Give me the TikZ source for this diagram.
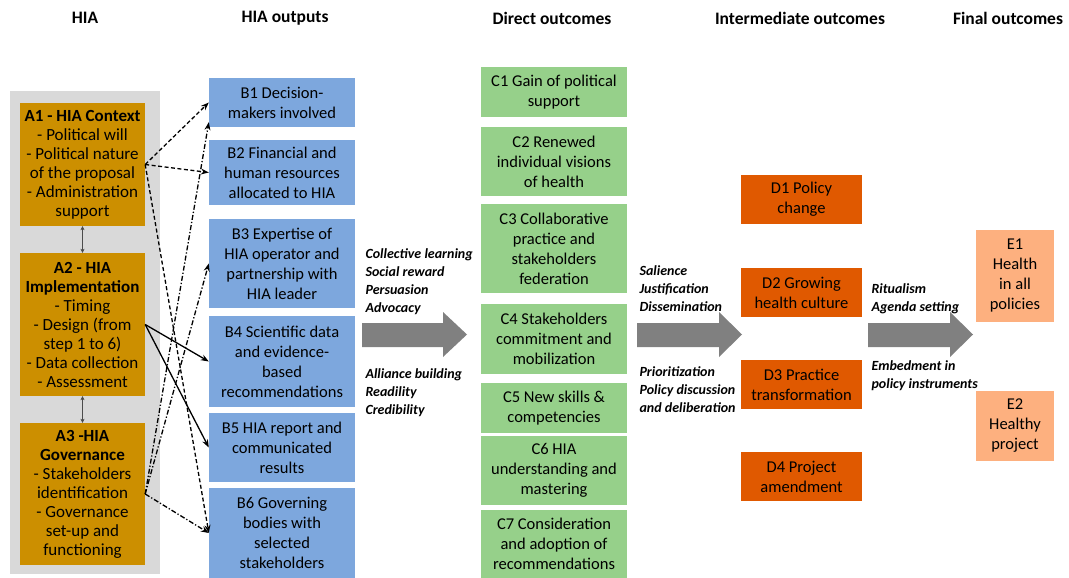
\documentclass[tikz,border=0pt]{standalone}
\usepackage{fontspec}
\setmainfont{Carlito}
\usetikzlibrary{arrows.meta, calc}

\definecolor{ctxgold}{RGB}{204,143,0}
\definecolor{outblue}{RGB}{125,167,221}
\definecolor{dirgreen}{RGB}{150,208,138}
\definecolor{intorange}{RGB}{224,89,0}
\definecolor{finpeach}{RGB}{253,176,127}
\definecolor{panelgrey}{RGB}{217,217,217}
\definecolor{flowgrey}{RGB}{128,128,128}

\begin{document}
\begin{tikzpicture}[
	x=1pt, y=-1pt,
	box/.style={rectangle, inner sep=2pt, align=center, font=\fontsize{16.5}{20}\selectfont},
	hiabox/.style={box, fill=ctxgold, minimum width=125pt, font=\fontsize{17}{19}\selectfont},
	outbox/.style={box, fill=outblue, minimum width=146pt},
	dirbox/.style={box, fill=dirgreen, minimum width=146pt},
	intbox/.style={box, fill=intorange, minimum width=121pt},
	finbox/.style={box, fill=finpeach, minimum width=78pt},
	heading/.style={font=\fontsize{17.5}{20}\selectfont\bfseries},
	mech/.style={anchor=west, align=left, font=\fontsize{14}{18}\selectfont\bfseries\itshape},
	flow/.style={fill=flowgrey},
	tip/.style={-{Stealth[length=8pt, width=6pt]}, line width=1.3pt},
	ctxlink/.style={tip, dash pattern=on 4pt off 2.5pt},
	implink/.style={tip},
	govlink/.style={tip, dash pattern=on 5pt off 2pt on 1.3pt off 2pt},
	pairlink/.style={{Stealth[length=4pt, width=4pt]}-{Stealth[length=4pt, width=4pt]}, draw=black!70, thin},
]
	\useasboundingbox (0,0) rectangle (1069,578);

	% Column headings
	\foreach \n/\x/\txt in {hA/85/HIA, hB/285/HIA outputs, hC/552/Direct outcomes,
		hD/800/Intermediate outcomes, hE/1008/Final outcomes} {
		\node[heading] (\n) at (\x,18) {\txt};
	}

	% HIA column on a grey panel
	\fill[panelgrey] (10,91) rectangle (160,574);
	\node[hiabox, minimum height=123pt] (A1) at (82.5,164.5)
		{\textbf{A1 - HIA Context}\\- Political will\\- Political nature\\of the proposal\\- Administration\\support};
	\node[hiabox, minimum height=143pt] (A2) at (82.5,324.5)
		{\textbf{A2 - HIA}\\\textbf{Implementation}\\- Timing\\- Design (from\\step 1 to 6)\\- Data collection\\- Assessment};
	\node[hiabox, minimum height=142pt] (A3) at (82.5,494)
		{\textbf{A3 -HIA}\\\textbf{Governance}\\- Stakeholders\\identification\\- Governance\\set-up and\\functioning};
	\draw[pairlink] (A1.south) -- (A2.north);
	\draw[pairlink] (A2.south) -- (A3.north);

	% Outputs, direct, intermediate and final outcomes
	\foreach \n/\y/\h/\txt in {
		B1/102.5/49/{B1 Decision-\\makers involved},
		B2/172.5/65/{B2 Financial and\\human resources\\allocated to HIA},
		B3/263.5/89/{B3 Expertise of\\HIA operator and\\partnership with\\HIA leader},
		B4/361.5/91/{B4 Scientific data\\and evidence-\\based\\recommendations},
		B5/447.5/69/{B5 HIA report and\\communicated\\results},
		B6/533/90/{B6 Governing\\bodies with\\selected\\stakeholders}} {
		\node[outbox, minimum height=\h pt] (\n) at (282,\y) {\txt};
	}
	\foreach \n/\y/\h/\txt in {
		C1/92/50/{C1 Gain of political\\support},
		C2/161.5/69/{C2 Renewed\\individual visions\\of health},
		C3/248.5/89/{C3 Collaborative\\practice and\\stakeholders\\federation},
		C4/339/70/{C4 Stakeholders\\commitment and\\mobilization},
		C5/408/50/{C5 New skills \&\\competencies},
		C6/470.5/69/{C6 HIA\\understanding and\\mastering},
		C7/544/68/{C7 Consideration\\and adoption of\\recommendations}} {
		\node[dirbox, minimum height=\h pt] (\n) at (554,\y) {\txt};
	}
	\foreach \n/\y/\txt in {
		D1/199.5/{D1 Policy\\change},
		D2/292.5/{D2 Growing\\health culture},
		D3/384.5/{D3 Practice\\transformation},
		D4/476.5/{D4 Project\\amendment}} {
		\node[intbox, minimum height=49pt] (\n) at (801.5,\y) {\txt};
	}
	\node[finbox, minimum height=92pt] (E1) at (1015,276) {E1\\Health\\in all\\policies};
	\node[finbox, minimum height=70pt] (E2) at (1015,426) {E2\\Healthy\\project};

	% Links from the HIA to its outputs
	\draw[ctxlink] (A1.east) -- (B1.west);
	\draw[ctxlink] (A1.east) -- (B2.west);
	\draw[ctxlink] (A1.east) -- (B6.west);
	\draw[implink] (A2.east) -- (B4.west);
	\draw[implink] (A2.east) -- (B5.west);
	\draw[govlink] (A3.east) -- ([yshift=5pt]B1.south west);
	\draw[govlink] (A3.east) -- (B3.west);
	\draw[govlink] (A3.east) -- (B6.west);

	% Big grey arrows between the columns
	\foreach \s/\h/\t in {362/443/467, 637/719/742, 868/950/973} {
		\fill[flow] (\s,323) -- (\h,323) -- (\h,312) -- (\t,334.5) -- (\h,357) -- (\h,347) -- (\s,347) -- cycle;
	}

	% Mechanisms above and below the arrows
	\node[mech] (m1a) at (362,282) {Collective learning\\Social reward\\Persuasion\\Advocacy};
	\node[mech] (m1b) at (362,393) {Alliance building\\Readility\\Credibility};
	\node[mech] (m2a) at (636,289) {Salience\\Justification\\Dissemination};
	\node[mech] (m2b) at (636,390) {Prioritization\\Policy discussion\\and deliberation};
	\node[mech] (m3a) at (868,299) {Ritualism\\Agenda setting};
	\node[mech] (m3b) at (868,376) {Embedment in\\policy instruments};
\end{tikzpicture}
\end{document}
